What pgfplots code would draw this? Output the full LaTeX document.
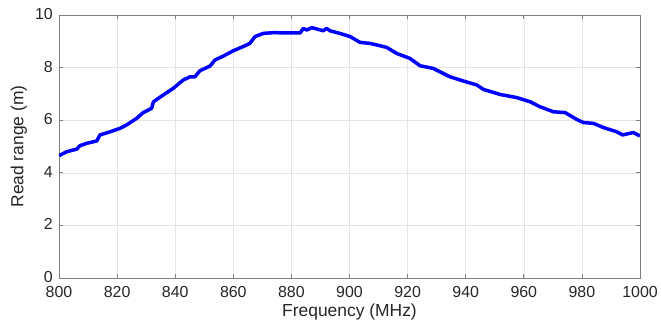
\documentclass[border=0pt]{standalone}
\usepackage{fontspec}
\setmainfont{Liberation Sans}
\usepackage{pgfplots}
\pgfplotsset{compat=1.18}
\definecolor{axgray}{RGB}{128,128,128}
\definecolor{txt}{RGB}{38,38,38}
\begin{document}
\begin{tikzpicture}
\useasboundingbox (-59bp,-47bp) rectangle (602bp,278bp);
\begin{axis}[
  at={(0,0)}, anchor=south west,
  scale only axis, width=581bp, height=263bp,
  xmin=800, xmax=1000, ymin=0, ymax=10,
  xtick={800,820,...,1000}, ytick={0,2,...,10},
  /pgf/number format/assume math mode=true,
  /pgf/number format/1000 sep={},
  tick label style={font=\fontsize{16}{18}\selectfont, text=txt},
  label style={font=\fontsize{17.5}{20}\selectfont, text=txt},
  xlabel={Frequency (MHz)}, ylabel={Read range (m)},
  xlabel style={at={(axis description cs:0.5,-0.1445)}, anchor=base},
  ylabel style={at={(axis description cs:-0.0614,0.5)}, anchor=base},
  grid=major, major grid style={color=gray!20, line width=0.5bp},
  axis line style={axgray, line width=0.7bp},
  tick style={axgray, line width=0.7bp},
  tick align=inside, major tick length=4bp,
  xticklabel style={inner sep=0pt, anchor=north, yshift=-8bp},
  yticklabel style={inner sep=0pt, anchor=east, xshift=-6bp, yshift=1bp},
]
\addplot[color={rgb,255:red,0;green,0;blue,255}, line width=3.5bp, line join=round] coordinates {
(800,4.65) (802.6,4.80) (806.1,4.90) (807.2,5.03) (809.5,5.12) (813,5.21) (814.1,5.44)
(817.6,5.56) (821,5.69) (823.3,5.82) (826.7,6.07) (829,6.29) (831.9,6.45) (832.5,6.70)
(835.9,6.96) (839.3,7.21) (842.8,7.53) (845.1,7.65) (846.8,7.65) (848.5,7.88) (852,8.06)
(853.7,8.29) (856.6,8.44) (860,8.64) (863.4,8.80) (865.7,8.92) (867.5,9.18) (870.3,9.30)
(873.8,9.33) (877.2,9.32) (883,9.32) (884.1,9.49) (885.3,9.43) (887,9.52) (891,9.40)
(892.1,9.49) (893.3,9.40) (896.7,9.30) (900.2,9.18) (903.6,8.96) (907.1,8.92) (912.8,8.77)
(916.2,8.54) (920.8,8.35) (924.3,8.07) (928.8,7.97) (934.6,7.65) (939.2,7.49) (943.8,7.34)
(946.1,7.17) (951.8,6.98) (957.6,6.86) (962.2,6.70) (965.6,6.51) (970.2,6.32) (974.2,6.29)
(978.2,6.03) (980.5,5.91) (984,5.88) (987.4,5.72) (992,5.56) (994,5.44) (997.7,5.53) (1000,5.40)
};
\end{axis}
\end{tikzpicture}
\end{document}
